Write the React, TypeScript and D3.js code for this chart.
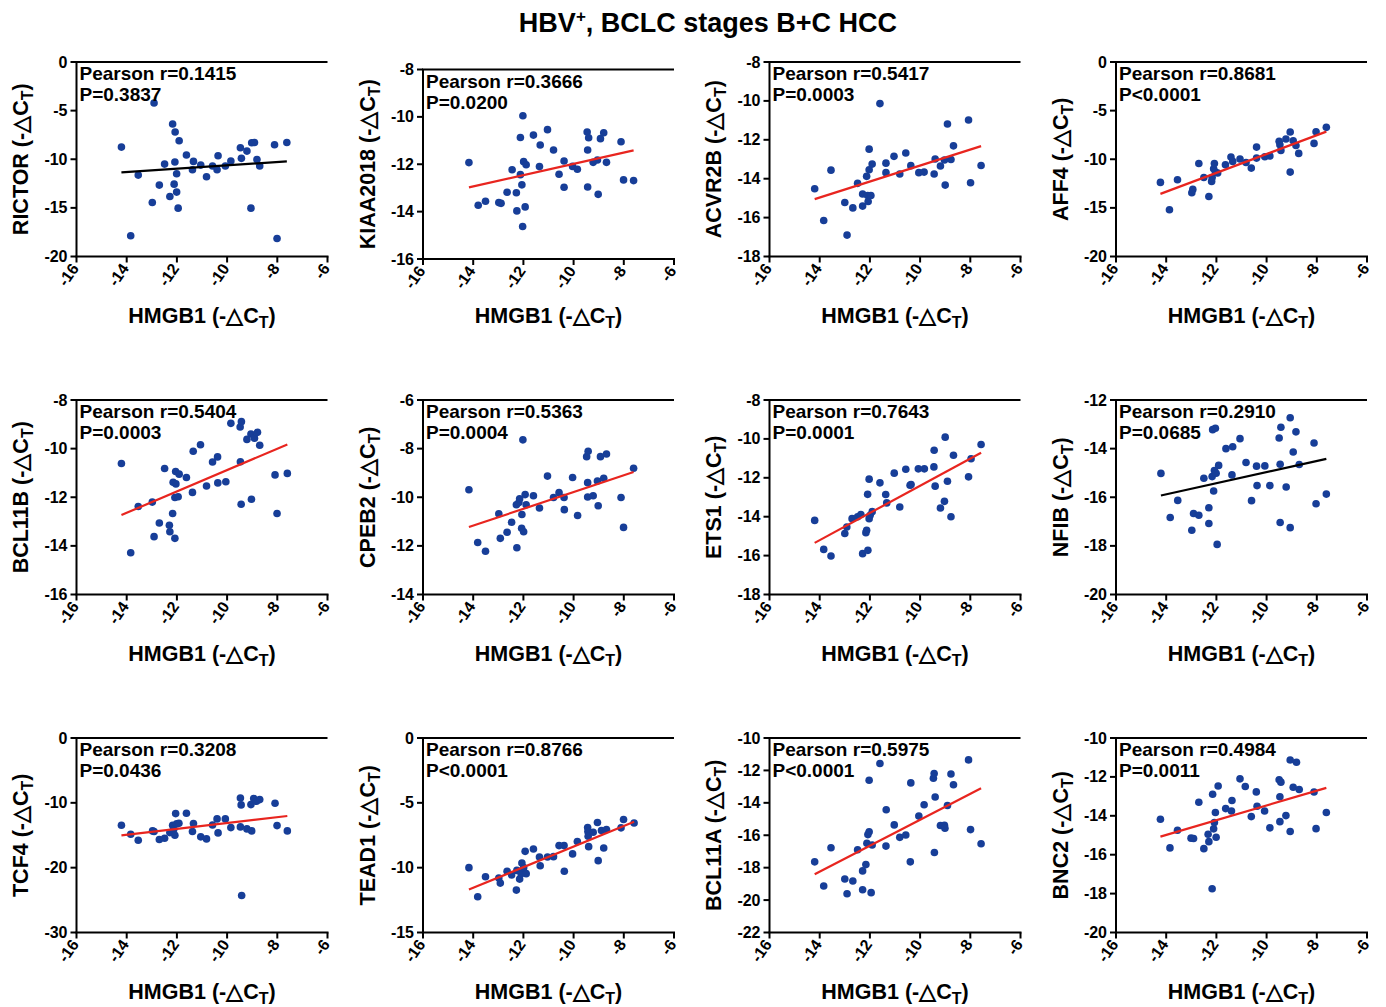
import React from "react";
import * as d3 from "d3";

type Pt = [number, number];

const TITLE_MAIN = "HBV";
const TITLE_SUP = "+";
const TITLE_REST = ", BCLC stages B+C HCC";
const X_LABEL = "HMGB1";
const X_DOMAIN: [number, number] = [-16, -6];
const X_TICKS = [-16, -14, -12, -10, -8, -6];

const GENES = ["RICTOR", "KIAA2018", "ACVR2B", "AFF4", "BCL11B", "CPEB2", "ETS1", "NFIB", "TCF4", "TEAD1", "BCL11A", "BNC2"];
const R_TEXT = ["0.1415", "0.3666", "0.5417", "0.8681", "0.5404", "0.5363", "0.7643", "0.2910", "0.3208", "0.8766", "0.5975", "0.4984"];
const P_TEXT = ["P=0.3837", "P=0.0200", "P=0.0003", "P<0.0001", "P=0.0003", "P=0.0004", "P=0.0001", "P=0.0685", "P=0.0436", "P<0.0001", "P<0.0001", "P=0.0011"];
const Y_DOMAINS: [number, number][] = [[-20, 0], [-16, -8], [-18, -8], [-20, 0], [-16, -8], [-14, -6], [-18, -8], [-20, -12], [-30, 0], [-15, 0], [-22, -10], [-20, -10]];
const Y_STEPS = [5, 2, 2, 5, 2, 2, 2, 2, 10, 5, 2, 2];
const SIGNIFICANT = [false, true, true, true, true, true, true, false, true, true, true, true];

const RICTOR: Pt[] = [
  [-14.21, -8.75], [-13.84, -17.87], [-13.54, -11.63], [-12.98, -14.44], [-12.91, -4.22], [-12.7, -12.66],
  [-12.49, -10.5], [-12.28, -13.83], [-12.17, -6.38], [-12.11, -12.56], [-12.08, -10.29], [-12.07, -7.2],
  [-12.01, -13.38], [-12.01, -11.49], [-11.95, -15.03], [-11.91, -8.1], [-11.62, -9.57], [-11.38, -11.08],
  [-11.34, -10.22], [-11.05, -10.6], [-10.82, -11.8], [-10.58, -10.7], [-10.4, -11.08], [-10.36, -9.64],
  [-10.07, -10.7], [-9.85, -10.19], [-9.47, -8.82], [-9.43, -9.91], [-9.21, -9.16], [-9.05, -15.03],
  [-9.02, -8.3], [-8.91, -8.27], [-8.81, -10.02], [-8.7, -10.7], [-8.11, -8.51], [-8.01, -18.15], [-7.62, -8.27],
];
const KIAA2018: Pt[] = [
  [-14.17, -11.93], [-13.8, -13.73], [-13.51, -13.56], [-12.98, -13.62], [-12.89, -13.65], [-12.65, -13.18],
  [-12.45, -12.23], [-12.28, -13.2], [-12.26, -13.97], [-12.12, -10.87], [-12.12, -12.44], [-12.06, -12.87],
  [-12.02, -9.95], [-11.99, -11.89], [-12.03, -14.63], [-11.93, -13.8], [-11.89, -12.02], [-11.6, -10.77],
  [-11.36, -12.1], [-11.33, -11.19], [-11.04, -10.54], [-10.8, -11.4], [-10.58, -12.42], [-10.38, -11.86],
  [-10.38, -12.97], [-10.04, -12.09], [-9.85, -12.21], [-9.46, -10.64], [-9.44, -11.4], [-9.4, -10.88],
  [-9.44, -12.96], [-9.22, -11.92], [-9.05, -11.82], [-9.02, -13.27], [-8.93, -10.92], [-8.8, -10.67],
  [-8.69, -11.92], [-8.11, -11.05], [-8.01, -12.66], [-7.61, -12.69],
];
const ACVR2B: Pt[] = [
  [-14.2, -14.52], [-13.84, -16.15], [-13.55, -13.56], [-13.0, -15.22], [-12.91, -16.9], [-12.68, -15.5],
  [-12.49, -14.24], [-12.29, -14.79], [-12.29, -15.41], [-12.13, -13.88], [-12.09, -14.86], [-12.07, -15.17],
  [-12.03, -12.48], [-12.03, -13.54], [-11.96, -14.86], [-11.91, -13.25], [-11.6, -10.14], [-11.36, -13.2],
  [-11.36, -13.69], [-11.04, -12.85], [-10.81, -13.76], [-10.57, -12.68], [-10.37, -13.33], [-10.05, -13.69],
  [-9.84, -13.66], [-9.44, -13.76], [-9.4, -12.99], [-9.19, -13.35], [-9.03, -13.04], [-9.0, -14.33],
  [-8.91, -11.19], [-8.77, -13.01], [-8.67, -12.31], [-8.07, -10.98], [-7.99, -14.21], [-7.57, -13.32],
];
const AFF4: Pt[] = [
  [-14.23, -12.38], [-13.87, -15.2], [-13.55, -12.11], [-12.98, -13.45], [-12.94, -13.1], [-12.7, -10.43],
  [-12.5, -11.87], [-12.3, -13.83], [-12.19, -12.28], [-12.17, -11.87], [-12.11, -10.98], [-12.08, -10.43],
  [-12.04, -11.32], [-11.95, -11.42], [-11.64, -10.57], [-11.42, -9.78], [-11.35, -10.22], [-11.06, -9.98],
  [-10.82, -10.33], [-10.61, -10.91], [-10.4, -8.75], [-10.4, -9.88], [-10.07, -9.74], [-9.87, -9.67],
  [-9.5, -8.16], [-9.47, -8.51], [-9.43, -9.09], [-9.23, -7.92], [-9.06, -7.2], [-9.06, -11.32],
  [-8.94, -8.1], [-8.83, -8.58], [-8.72, -9.4], [-8.11, -8.37], [-8.03, -7.17], [-7.62, -6.72],
];
const BCL11B: Pt[] = [
  [-14.21, -10.61], [-13.84, -14.28], [-13.54, -12.38], [-12.98, -12.2], [-12.91, -13.62], [-12.7, -13.06],
  [-12.49, -10.82], [-12.3, -13.15], [-12.28, -13.42], [-12.17, -12.67], [-12.15, -11.38], [-12.08, -13.69],
  [-12.05, -10.94], [-12.04, -11.45], [-12.08, -12.01], [-11.95, -11.98], [-11.91, -11.05], [-11.62, -11.19],
  [-11.38, -11.8], [-11.35, -10.11], [-11.06, -9.84], [-10.82, -11.54], [-10.58, -10.55], [-10.38, -10.34],
  [-10.37, -11.41], [-10.05, -11.36], [-9.85, -8.96], [-9.48, -9.11], [-9.43, -8.89], [-9.47, -10.54],
  [-9.44, -12.29], [-9.21, -9.62], [-9.05, -9.4], [-9.03, -12.08], [-8.91, -9.57], [-8.79, -9.33],
  [-8.7, -9.86], [-8.09, -11.08], [-8.01, -12.67], [-7.6, -11.02],
];
const CPEB2: Pt[] = [
  [-14.17, -9.69], [-13.82, -11.86], [-13.51, -12.22], [-12.98, -10.68], [-12.92, -11.69], [-12.65, -11.44],
  [-12.47, -11.03], [-12.28, -10.31], [-12.26, -12.08], [-12.18, -10.22], [-12.15, -10.06], [-12.07, -11.28],
  [-12.06, -10.71], [-12.02, -7.64], [-11.99, -11.42], [-11.93, -9.89], [-11.89, -10.31], [-11.6, -9.94],
  [-11.36, -10.44], [-11.04, -9.13], [-10.8, -10.01], [-10.58, -9.81], [-10.38, -10.01], [-10.37, -10.51],
  [-10.04, -9.19], [-9.84, -10.75], [-9.48, -8.33], [-9.42, -8.11], [-9.44, -9.4], [-9.44, -9.99],
  [-9.22, -9.94], [-9.05, -9.33], [-9.02, -10.35], [-8.93, -8.33], [-8.8, -9.22], [-8.69, -8.22],
  [-8.11, -10.01], [-8.01, -11.24], [-7.61, -8.81],
];
const ETS1: Pt[] = [
  [-14.2, -14.19], [-13.84, -15.68], [-13.55, -16.02], [-13.0, -14.86], [-12.92, -14.53], [-12.71, -14.1],
  [-12.49, -14.0], [-12.36, -13.89], [-12.29, -15.9], [-12.16, -14.82], [-12.13, -14.7], [-12.09, -12.85],
  [-12.08, -15.73], [-12.03, -12.07], [-12.03, -14.1], [-11.99, -13.93], [-11.91, -13.74], [-11.6, -12.26],
  [-11.37, -12.86], [-11.33, -13.29], [-11.03, -11.76], [-10.81, -13.5], [-10.57, -11.56], [-10.4, -12.38],
  [-10.36, -12.35], [-10.07, -11.54], [-9.83, -11.54], [-9.44, -10.58], [-9.45, -11.44], [-9.4, -12.43],
  [-9.19, -13.55], [-9.03, -13.21], [-9.0, -9.91], [-8.91, -12.18], [-8.77, -14.0], [-8.67, -10.84],
  [-8.07, -11.95], [-7.97, -11.02], [-7.57, -10.29],
];
const NFIB: Pt[] = [
  [-14.21, -15.02], [-13.84, -16.83], [-13.54, -16.13], [-12.98, -17.36], [-12.91, -16.67], [-12.7, -16.74],
  [-12.5, -15.22], [-12.3, -16.43], [-12.3, -17.08], [-12.17, -15.15], [-12.15, -13.22], [-12.11, -15.74],
  [-12.08, -14.9], [-12.04, -13.16], [-12.01, -15.01], [-11.97, -17.94], [-11.91, -14.69], [-11.62, -14.0],
  [-11.38, -15.08], [-11.35, -13.92], [-11.06, -13.59], [-10.82, -14.57], [-10.6, -16.14], [-10.4, -14.72],
  [-10.38, -15.52], [-10.07, -14.71], [-9.87, -15.52], [-9.5, -13.56], [-9.43, -13.12], [-9.46, -14.64],
  [-9.46, -17.04], [-9.22, -15.58], [-9.06, -12.73], [-9.06, -17.25], [-8.94, -14.14], [-8.83, -13.31],
  [-8.7, -14.65], [-8.11, -13.77], [-8.03, -16.27], [-7.62, -15.87],
];
const TCF4: Pt[] = [
  [-14.21, -13.46], [-13.84, -14.84], [-13.54, -15.77], [-12.97, -14.33], [-12.91, -14.43], [-12.7, -15.66],
  [-12.49, -15.46], [-12.28, -14.59], [-12.17, -13.46], [-12.13, -14.12], [-12.08, -15.0], [-12.05, -11.66],
  [-12.01, -13.25], [-11.92, -13.15], [-11.62, -11.61], [-11.38, -14.43], [-11.34, -13.2], [-11.05, -15.25],
  [-10.82, -15.56], [-10.58, -13.41], [-10.4, -12.48], [-10.36, -14.64], [-10.07, -12.48], [-9.85, -13.82],
  [-9.47, -9.25], [-9.44, -10.32], [-9.47, -13.71], [-9.42, -24.29], [-9.21, -14.02], [-9.05, -10.27],
  [-9.02, -14.33], [-8.94, -9.35], [-8.83, -9.76], [-8.7, -9.5], [-8.09, -10.07], [-8.01, -13.51], [-7.6, -14.33],
];
const TEAD1: Pt[] = [
  [-14.17, -10.0], [-13.82, -12.24], [-13.51, -10.7], [-12.98, -10.8], [-12.92, -11.19], [-12.65, -10.28],
  [-12.47, -10.57], [-12.28, -11.73], [-12.26, -10.21], [-12.15, -10.88], [-12.09, -10.46], [-12.06, -9.64],
  [-11.99, -10.0], [-11.93, -8.74], [-11.89, -10.46], [-11.6, -8.56], [-11.36, -9.18], [-11.33, -9.85],
  [-11.04, -9.18], [-10.8, -9.15], [-10.58, -8.3], [-10.38, -8.3], [-10.37, -10.28], [-10.04, -8.94],
  [-9.85, -7.99], [-9.44, -6.91], [-9.43, -7.22], [-9.42, -7.58], [-9.4, -8.38], [-9.22, -7.27],
  [-9.05, -6.52], [-9.02, -9.46], [-8.89, -7.14], [-8.8, -8.48], [-8.69, -7.06], [-8.11, -6.93],
  [-8.01, -6.29], [-7.59, -6.55],
];
const BCL11A: Pt[] = [
  [-14.2, -17.64], [-13.84, -19.13], [-13.55, -16.77], [-13.0, -18.7], [-12.91, -19.61], [-12.68, -18.82],
  [-12.49, -16.89], [-12.29, -19.36], [-12.29, -18.2], [-12.16, -17.81], [-12.12, -16.5], [-12.08, -15.96],
  [-12.03, -12.61], [-12.03, -15.78], [-11.95, -19.54], [-11.91, -16.6], [-11.6, -11.57], [-11.36, -16.67],
  [-11.35, -14.43], [-11.03, -15.36], [-10.81, -16.13], [-10.57, -15.98], [-10.39, -17.64], [-10.37, -12.77],
  [-10.05, -14.82], [-9.84, -14.12], [-9.47, -12.48], [-9.44, -12.19], [-9.43, -17.06], [-9.4, -13.64],
  [-9.19, -15.4], [-9.03, -15.38], [-9.01, -15.57], [-8.91, -14.16], [-8.77, -12.22], [-8.67, -12.88],
  [-8.07, -11.35], [-7.99, -15.65], [-7.57, -16.52],
];
const BNC2: Pt[] = [
  [-14.23, -14.18], [-13.85, -15.65], [-13.55, -14.74], [-13.01, -15.15], [-12.91, -15.17], [-12.7, -13.3],
  [-12.5, -15.69], [-12.33, -14.95], [-12.3, -15.33], [-12.15, -12.89], [-12.17, -17.75], [-12.11, -14.67],
  [-12.08, -14.35], [-12.04, -13.83], [-12.01, -15.1], [-11.93, -12.47], [-11.63, -13.63], [-11.4, -13.75],
  [-11.38, -13.21], [-11.06, -12.1], [-10.85, -12.49], [-10.61, -14.04], [-10.41, -12.77], [-10.38, -13.51],
  [-10.08, -13.75], [-9.87, -14.62], [-9.5, -12.15], [-9.43, -12.27], [-9.47, -13.02], [-9.47, -14.3],
  [-9.23, -13.99], [-9.06, -11.13], [-9.06, -14.81], [-8.94, -12.53], [-8.81, -11.25], [-8.7, -12.65],
  [-8.11, -12.78], [-8.03, -14.66], [-7.62, -13.83],
];

const DATA: Pt[][] = [RICTOR, KIAA2018, ACVR2B, AFF4, BCL11B, CPEB2, ETS1, NFIB, TCF4, TEAD1, BCL11A, BNC2];

const COL_X0 = [76.5, 423, 769.5, 1116];
const ROW_Y0 = [62, 400, 738];
const PW = 251;
const PH = 194.5;
const FONT = "'Liberation Sans', Arial, Helvetica, sans-serif";
const DOT = "#173e98";
const RED = "#e8251f";

function fit(pts: Pt[]) {
  const mx = d3.mean(pts, (p) => p[0])!;
  const my = d3.mean(pts, (p) => p[1])!;
  let sxy = 0, sxx = 0;
  for (const [x, y] of pts) { sxy += (x - mx) * (y - my); sxx += (x - mx) * (x - mx); }
  const b = sxy / sxx;
  return { b, a: my - b * mx, x0: d3.min(pts, (p) => p[0])!, x1: d3.max(pts, (p) => p[0])! };
}

function Panel({ idx }: { idx: number }) {
  const col = idx % 4, row = Math.floor(idx / 4);
  const left = COL_X0[col];
  // second panel of the first row sits a few pixels lower in the original
  const top = idx === 1 ? ROW_Y0[row] + 7.5 : ROW_Y0[row];
  const ph = idx === 1 ? PH - 5 : PH;
  const bottom = top + ph;
  const right = left + PW;
  const x = d3.scaleLinear().domain(X_DOMAIN).range([left, right]);
  const yd = Y_DOMAINS[idx];
  const y = d3.scaleLinear().domain(yd).range([bottom, top]);
  const yTicks = d3.range(yd[0], yd[1] + 0.001, Y_STEPS[idx]);
  const pts = DATA[idx];
  const f = fit(pts);
  const axisBottom = ROW_Y0[row] + PH;
  return (
    <g>
      <path d={`M${left},${bottom}V${top}H${right}`} fill="none" stroke="#000" strokeWidth={2} />
      <line x1={left - 1} x2={right + 1} y1={bottom} y2={bottom} stroke="#000" strokeWidth={2} />
      {yTicks.map((t) => (
        <g key={"y" + t}>
          <line x1={left - 6} x2={left} y1={y(t)} y2={y(t)} stroke="#000" strokeWidth={2} />
          <text x={left - 9} y={y(t) + 5.5} textAnchor="end" fontSize={16} fontWeight="bold" fontFamily={FONT}>{t}</text>
        </g>
      ))}
      {X_TICKS.map((t) => (
        <g key={"x" + t}>
          <line x1={x(t)} x2={x(t)} y1={bottom} y2={bottom + 6} stroke="#000" strokeWidth={2} />
          <text transform={`translate(${x(t) + 3},${bottom + 12}) rotate(-55)`} textAnchor="end" fontSize={16} fontWeight="bold" fontFamily={FONT}>{t}</text>
        </g>
      ))}
      {pts.map((p, i) => (
        <circle key={i} cx={x(p[0])} cy={y(p[1])} r={3.8} fill={DOT} />
      ))}
      <line x1={x(f.x0)} y1={y(f.a + f.b * f.x0)} x2={x(f.x1)} y2={y(f.a + f.b * f.x1)} stroke={SIGNIFICANT[idx] ? RED : "#000"} strokeWidth={2.2} />
      <text x={left + 3} y={top + 18} fontSize={19} fontWeight="bold" fontFamily={FONT}>{"Pearson r=" + R_TEXT[idx]}</text>
      <text x={left + 3} y={top + 39} fontSize={19} fontWeight="bold" fontFamily={FONT}>{P_TEXT[idx]}</text>
      <text x={left + PW / 2} y={axisBottom + 66} textAnchor="middle" fontSize={21.5} fontWeight="bold" fontFamily={FONT}>
        {X_LABEL + " (-△C"}<tspan dy={5} fontSize={16}>T</tspan><tspan dy={-5}>)</tspan>
      </text>
      <text transform={`translate(${left - 48.5},${top + ph / 2}) rotate(-90)`} textAnchor="middle" fontSize={21.5} fontWeight="bold" fontFamily={FONT}>
        {GENES[idx] + " (-△C"}<tspan dy={5} fontSize={16}>T</tspan><tspan dy={-5}>)</tspan>
      </text>
    </g>
  );
}

export default function App() {
  return (
    <svg width={1386} height={1007} style={{ position: "absolute", left: 0, top: 0, background: "#fff" }}>
      <rect width={1386} height={1007} fill="#fff" />
      <text x={708} y={32} textAnchor="middle" fontSize={27} fontWeight="bold" fontFamily={FONT}>
        {TITLE_MAIN}<tspan dy={-10} fontSize={17}>{TITLE_SUP}</tspan><tspan dy={10}>{TITLE_REST}</tspan>
      </text>
      {DATA.map((_, i) => <Panel key={i} idx={i} />)}
    </svg>
  );
}
